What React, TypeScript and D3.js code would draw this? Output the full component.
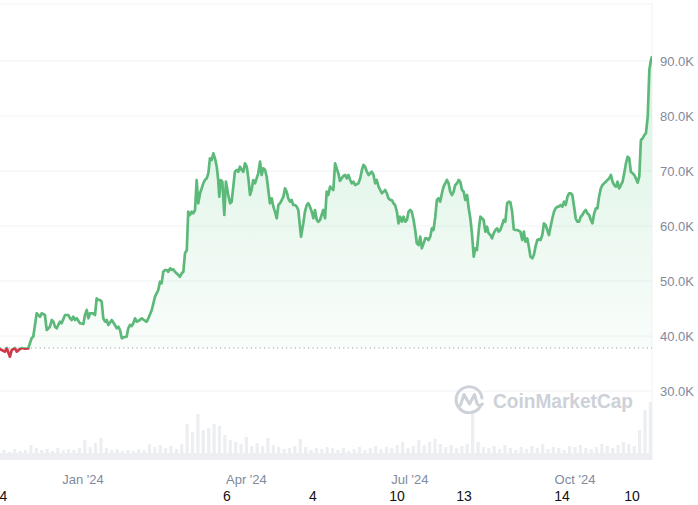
import React from 'react';
import * as d3 from 'd3';

// ---- data ----
// [days since 2024-01-01, price in thousands USD]
const pricePoints: [number, number][] = [
  [-47.0,37.82],[-46.2,37.6],[-45.3,37.45],[-43.4,37.15],[-42.5,37.82],[-40.7,36.24],[-39.7,37.45],[-37.9,37.82],[-36.9,37.15],[-35.1,37.64],[-34.1,37.82],[-32.3,37.69],[-30.5,37.76],
  [-28.6,39.64],[-27.7,39.87],[-25.8,44.13],[-24.9,43.82],[-23.9,43.51],[-23.0,44.13],[-21.2,43.82],[-20.2,41.09],[-18.4,41.69],[-17.4,42.91],[-16.5,42.6],[-15.6,41.69],[-14.6,41.4],[-13.8,42.0],[-12.8,42.6],[-11.9,42.31],[-10.0,43.82],[-8.2,43.82],[-7.2,43.22],[-6.3,42.91],[-5.4,43.51],[-4.5,42.91],[-3.5,43.22],[-1.7,42.31],
  [0.2,42.18],[1.1,43.82],[2.1,44.73],[3.0,43.22],[3.9,44.13],[5.7,44.13],[6.7,43.82],[7.6,46.85],[8.5,46.55],[9.5,46.55],[10.4,46.24],[11.3,43.22],[12.3,42.6],[13.2,42.91],[14.1,42.0],[16.0,42.91],[17.8,42.0],[18.8,41.4],[19.7,41.69],[20.6,41.09],[21.6,39.58],[22.4,39.76],[24.3,39.87],[25.2,41.4],[26.2,42.0],[27.1,41.82],[28.0,42.31],[29.0,43.22],[29.9,42.6],
  [31.7,42.91],[32.7,43.22],[34.5,42.78],[35.5,42.6],[36.4,43.22],[38.3,44.73],[40.1,47.15],[41.0,47.76],[41.9,48.36],[42.9,49.87],[43.8,49.58],[44.7,51.69],[45.7,52.0],[46.6,52.0],[47.5,51.69],[48.5,52.31],[49.4,52.0],[50.3,52.13],[51.2,51.69],[53.1,51.09],[54.0,50.78],[55.0,51.4],[55.9,51.69],[56.8,55.04],[57.8,55.64],[58.6,62.6],[59.6,62.0],
  [60.5,62.6],[61.4,62.31],[62.4,62.91],[63.3,68.36],[64.2,64.13],[65.2,65.95],[66.1,66.85],[67.0,67.76],[67.9,68.36],[68.9,68.67],[69.8,69.58],[70.7,72.31],[71.7,72.0],[72.6,73.22],[73.5,72.31],[74.5,70.78],[75.3,68.36],[75.9,65.33],[76.7,68.36],[77.6,68.06],[78.7,62.0],[79.6,68.06],[80.9,65.64],[81.9,64.13],[82.8,64.42],[83.7,67.15],[84.6,69.87],[85.6,70.18],[86.5,69.87],[87.4,70.78],[88.4,70.18],[89.3,69.87],
  [90.2,71.4],[91.2,70.78],[92.1,68.67],[93.0,65.64],[93.9,66.55],[94.8,68.36],[95.8,67.76],[96.7,68.67],[97.6,69.58],[98.6,71.69],[99.5,69.27],[100.4,70.49],[101.4,70.18],[102.3,68.96],[103.2,66.55],[104.1,64.13],[105.1,65.04],[106.0,63.51],[106.9,62.6],[107.9,61.4],[108.8,63.82],[109.7,64.13],[110.7,64.73],[111.6,65.33],[112.5,66.85],[113.4,66.24],[114.3,65.04],[115.3,64.42],[116.2,64.73],[117.1,63.82],[118.1,63.82],[119.0,63.51],[119.9,62.91],
  [121.4,58.05],[122.7,60.49],[123.6,62.6],[124.6,63.82],[125.5,64.13],[126.4,63.51],[127.4,62.6],[128.3,61.4],[129.2,62.91],[130.2,61.09],[131.1,60.78],[132.0,61.09],[132.9,62.0],[133.8,62.91],[134.8,61.4],[135.7,66.24],[136.6,65.64],[137.6,67.15],[138.5,66.85],[139.4,66.55],[140.4,71.4],[141.3,70.49],[142.2,69.58],[143.1,68.2],[144.1,68.67],[145.0,69.1],[146.0,69.27],[146.9,68.67],[147.8,69.27],[148.8,68.36],[149.7,67.76],
  [150.6,68.06],[151.6,67.45],[153.4,67.76],[154.4,68.67],[155.3,70.18],[156.2,71.09],[157.1,70.78],[158.1,69.87],[159.0,69.27],[160.8,69.87],[161.8,69.27],[162.7,67.76],[163.6,68.36],[164.6,67.15],[165.5,66.55],[166.4,65.95],[167.4,66.24],[168.3,66.55],[169.2,65.95],[170.1,65.04],[171.1,64.73],[172.0,64.73],[172.9,64.13],[173.8,63.82],[174.8,62.6],[175.7,60.49],[176.6,61.69],[177.6,60.78],[178.5,61.69],[179.4,60.78],
  [180.4,61.09],[181.3,62.6],[182.2,62.91],[183.1,62.6],[184.1,61.09],[185.0,59.27],[185.9,56.85],[186.9,56.55],[187.8,58.05],[188.7,55.95],[189.7,56.85],[190.6,57.76],[191.5,57.76],[192.4,57.45],[193.4,58.05],[194.3,59.58],[195.2,59.27],[196.2,61.69],[197.1,64.73],[198.0,65.04],[198.9,64.42],[199.9,65.95],[200.8,67.15],[201.7,67.76],[202.7,68.36],[203.6,67.76],[204.5,66.24],[205.5,65.64],[206.4,66.24],[207.3,67.45],[208.3,67.76],[209.2,68.36],
  [210.1,68.06],[211.1,66.55],[212.0,66.24],[212.9,64.73],[213.9,65.64],[214.8,63.22],[215.7,61.4],[216.6,58.67],[217.6,54.42],[218.5,55.95],[219.4,55.64],[220.4,59.27],[221.3,61.69],[222.2,61.4],[223.1,61.09],[224.1,58.96],[225.0,59.87],[225.9,58.67],[226.9,58.36],[227.8,57.76],[228.7,58.67],[229.7,59.27],[230.6,59.58],[231.5,58.97],[232.4,59.27],[233.4,60.18],[234.3,61.09],[235.2,60.78],[236.2,64.13],[237.1,64.42],[238.0,64.3],[239.0,62.6],
  [239.9,59.4],[240.8,59.27],[241.8,59.27],[243.6,58.97],[244.6,57.45],[245.5,58.97],[246.4,57.15],[247.4,57.76],[248.3,56.24],[249.2,54.42],[250.2,54.13],[251.1,54.73],[252.0,56.24],[253.0,57.45],[253.9,57.58],[254.8,57.45],[255.8,58.36],[256.7,60.49],[257.6,60.18],[258.6,59.27],[259.5,58.36],[260.4,59.87],[261.4,61.4],[262.3,62.6],[263.2,63.22],[264.2,63.51],[265.1,63.51],[266.0,63.82],[267.0,63.51],[267.9,64.42],[268.8,63.82],[269.8,65.33],
  [270.7,65.95],[271.6,65.95],[272.5,65.64],[273.5,63.51],[274.4,61.4],[275.3,60.78],[276.3,60.78],[277.2,61.69],[278.1,62.0],[279.1,62.6],[280.0,62.91],[280.9,62.31],[281.9,62.0],[282.8,61.09],[283.7,60.49],[284.7,62.31],[285.6,63.22],[286.5,63.22],[287.4,65.33],[288.4,66.85],[289.3,67.45],[290.2,67.76],[291.2,68.06],[292.1,68.36],[293.0,68.67],[294.0,69.27],[294.9,68.06],[295.8,67.45],[296.8,67.15],[297.7,68.06],[298.6,66.85],[299.6,67.45],
  [300.5,68.06],[301.4,69.58],[302.4,71.4],[303.3,72.6],[304.2,72.31],[305.1,69.87],[306.1,69.58],[307.0,69.27],[307.9,68.67],[308.9,67.87],[309.8,68.96],[310.7,75.64],[311.7,75.95],[312.6,76.55],[313.5,76.85],[314.5,79.87],[315.4,88.36],[316.3,90.18],[316.7,90.67],
];

// volume in billions USD, one value every 3 days starting at day -47
const volumeStartDay = -47;
const volumeStepDays = 3;
const volumes: number[] = [
  22.5,25,20,27.5,22.5,25,37.5,30,25,27.5,
  22.5,30,25,27.5,25,30,50,32.5,42.5,55,
  30,25,27.5,22.5,25,22.5,27.5,25,40,32.5,
  37.5,30,35,27.5,40,90,70,115,75,80,
  90,85,62.5,50,45,40,57.5,35,42.5,35,
  55,37.5,32.5,27.5,30,35,52.5,32.5,25,30,
  27.5,32.5,30,25,30,22.5,27.5,32.5,25,30,
  35,27.5,32.5,30,37.5,45,30,35,50,37.5,
  45,52.5,40,32.5,37.5,30,35,40,125,45,
  32.5,30,35,27.5,37.5,30,25,32.5,27.5,35,
  30,40,27.5,32.5,30,25,35,32.5,37.5,30,
  27.5,32.5,40,35,30,37.5,45,40,35,75,
  125,145,
];

const yTickValues = [30, 40, 50, 60, 70, 80, 90];
const monthTicks = [Date.UTC(2024, 0, 1), Date.UTC(2024, 3, 1), Date.UTC(2024, 6, 1), Date.UTC(2024, 9, 1)];
const extraTickDays = [-44.3, 80.2, 128.1, 174.9, 212.2, 266.8, 305.7];
const extraTickLabels = ['4', '6', '4', '10', '13', '14', '10'];

// ---- helpers ----
const BASE = Date.UTC(2024, 0, 1);
const DAY = 86400000;
const toDate = (d: number) => new Date(BASE + d * DAY);

const W = 698;
const H = 505;
const plotLeft = 0;
const plotRight = 652;
const plotTop = 4;
const volBottom = 460;

const x = d3.scaleUtc().domain([toDate(0), toDate(274)]).range([83, 575]);
const y = d3.scaleLinear().domain([30, 90]).range([391, 61]);
const yVol = d3.scaleLinear().domain([0, 150]).range([volBottom, 400]);

const baseline = pricePoints[0][1];
const baseY = y(baseline);

const FONT = '"Liberation Sans", Arial, Helvetica, sans-serif';
const GREEN = '#5db979';
const RED = '#cf3a48';
const GRID = '#eff2f5';
const LABEL = '#808a9d';

export default function App() {
  const line = d3.line<[number, number]>()
    .x(d => x(toDate(d[0])))
    .y(d => y(d[1]));
  const area = d3.area<[number, number]>()
    .x(d => x(toDate(d[0])))
    .y0(baseY)
    .y1(d => y(d[1]));
  const linePath = line(pricePoints) || '';
  const areaPath = area(pricePoints) || '';
  const fmtMonth = d3.utcFormat("%b '%y");
  const step = x(toDate(volumeStepDays)) - x(toDate(0));
  const barW = step * 0.6;

  return (
    <svg width={W} height={H} style={{ position: 'absolute', left: 0, top: 0, background: '#fff' }}
      xmlns="http://www.w3.org/2000/svg">
      <defs>
        <clipPath id="plotClip">
          <rect x={plotLeft} y={0} width={plotRight - plotLeft} height={volBottom} />
        </clipPath>
        <clipPath id="aboveClip">
          <rect x={plotLeft} y={0} width={plotRight - plotLeft} height={baseY} />
        </clipPath>
        <clipPath id="belowClip">
          <rect x={plotLeft} y={baseY} width={plotRight - plotLeft} height={volBottom - baseY} />
        </clipPath>
        <linearGradient id="greenFill" gradientUnits="userSpaceOnUse" x1="0" y1={y(90)} x2="0" y2={baseY}>
          <stop offset="0" stopColor="#3fbf6e" stopOpacity={0.2} />
          <stop offset="1" stopColor="#3fbf6e" stopOpacity={0.03} />
        </linearGradient>
        <linearGradient id="redFill" gradientUnits="userSpaceOnUse" x1="0" y1={baseY} x2="0" y2={y(34)}>
          <stop offset="0" stopColor={RED} stopOpacity={0.03} />
          <stop offset="1" stopColor={RED} stopOpacity={0.1} />
        </linearGradient>
      </defs>

      {/* frame */}
      <line x1={plotLeft} x2={plotRight} y1={plotTop} y2={plotTop} stroke={GRID} strokeWidth={1} />
      <line x1={plotRight} x2={plotRight} y1={plotTop} y2={volBottom} stroke={GRID} strokeWidth={1} />

      {/* grid */}
      {yTickValues.map(v => (
        <line key={v} x1={plotLeft} x2={plotRight} y1={y(v)} y2={y(v)} stroke={GRID} strokeWidth={1} />
      ))}

      {/* volume */}
      <g clipPath="url(#plotClip)">
        {volumes.map((v, i) => {
          const cx = x(toDate(volumeStartDay + i * volumeStepDays));
          return (
            <rect key={i} x={cx - barW / 2} y={yVol(v)} width={barW} height={volBottom - yVol(v)}
              fill="#eceef2" />
          );
        })}
        <rect x={plotLeft} y={yVol(17)} width={plotRight - plotLeft} height={volBottom - yVol(17)} fill="#eceef2" />
      </g>

      {/* watermark */}
      <g>
        <path d="M 480.5 406 A 13 13 0 1 1 482 398" fill="none" stroke="#cdd1d8" strokeWidth={3} strokeLinecap="round" />
        <path d="M 460.5 405 L 464 394.5 L 469.5 404 L 474.5 394.5 L 477 403.5 Q 479 407 482.5 404" fill="none" stroke="#cdd1d8" strokeWidth={3} strokeLinejoin="round" strokeLinecap="round" />
        <text x={493} y={408} fontFamily={FONT} fontSize={21} fontWeight={600} fill="#cdd1d8" textLength={140} lengthAdjust="spacingAndGlyphs">CoinMarketCap</text>
      </g>

      {/* price area + line */}
      <g clipPath="url(#plotClip)">
        <path d={areaPath} fill="url(#greenFill)" clipPath="url(#aboveClip)" />
        <path d={areaPath} fill="url(#redFill)" clipPath="url(#belowClip)" />
      </g>
      <line x1={plotLeft} x2={plotRight} y1={baseY} y2={baseY} stroke="#9aa2b1" strokeWidth={1.2} strokeDasharray="1.2 3.2" />
      <g clipPath="url(#plotClip)">
        <path d={linePath} fill="none" stroke={GREEN} strokeWidth={2.7} strokeLinejoin="round" strokeLinecap="round" clipPath="url(#aboveClip)" />
        <path d={linePath} fill="none" stroke={RED} strokeWidth={2.7} strokeLinejoin="round" strokeLinecap="round" clipPath="url(#belowClip)" />
      </g>

      {/* y labels */}
      {yTickValues.map(v => (
        <text key={v} x={660} y={y(v)} dy="0.35em" fontFamily={FONT} fontSize={13} fill={LABEL}>
          {`${v.toFixed(1)}K`}
        </text>
      ))}

      {/* x labels */}
      {monthTicks.map(t => (
        <text key={t} x={x(new Date(t))} y={484} textAnchor="middle" fontFamily={FONT} fontSize={13} fill={LABEL}>
          {fmtMonth(new Date(t))}
        </text>
      ))}
      {extraTickDays.map((d, i) => (
        <text key={i} x={x(toDate(d))} y={501} textAnchor="middle" fontFamily={FONT} fontSize={14} fill="#111">
          {extraTickLabels[i]}
        </text>
      ))}
    </svg>
  );
}
